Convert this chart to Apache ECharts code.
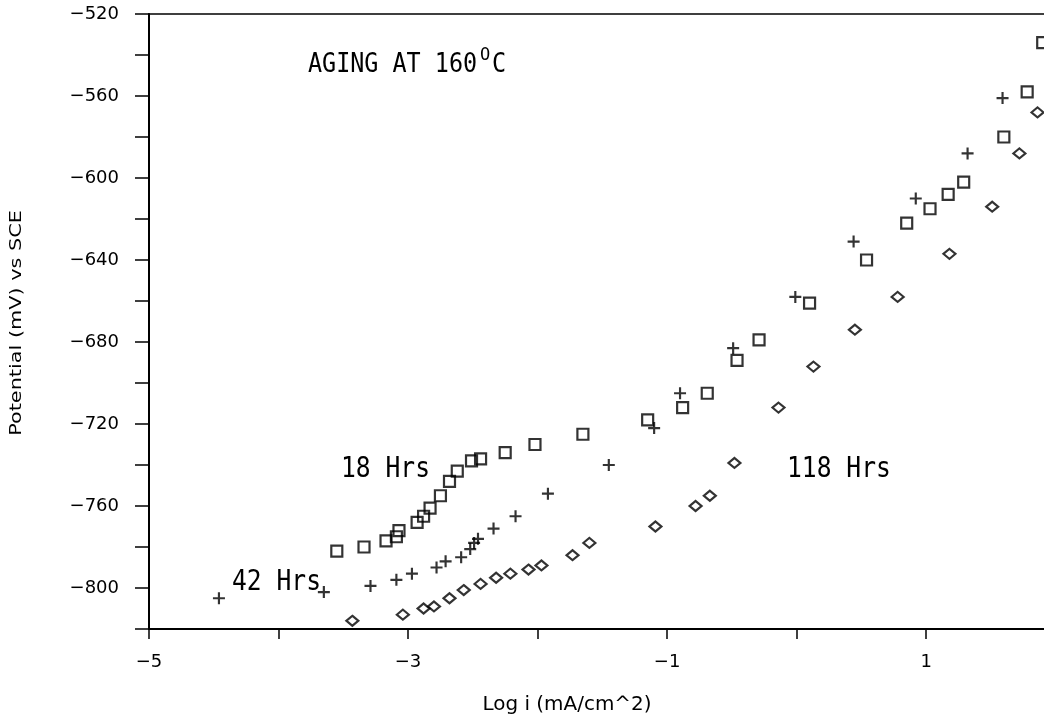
<!DOCTYPE html>
<html>
<head>
<meta charset="utf-8">
<script src="https://cdn.jsdelivr.net/npm/echarts@6/dist/echarts.min.js"></script>
<style>
  html, body { margin: 0; padding: 0; background: #fff; }
  #chart { width: 1044px; height: 717px; }
</style>
</head>
<body>
<div id="chart"></div>
<script>
// Polarisation data: log current density (mA/cm^2) vs potential (mV vs SCE)
const logI18 = [-3.55, -3.34, -3.17, -3.09, -3.07, -2.93, -2.88, -2.83, -2.75, -2.68, -2.62, -2.51, -2.44, -2.25, -2.02, -1.65, -1.15, -0.88, -0.69, -0.46, -0.29, 0.10, 0.54, 0.85, 1.03, 1.17, 1.29, 1.60, 1.78, 1.90];
const pot18 = [-782, -780, -777, -775, -772, -768, -765, -761, -755, -748, -743, -738, -737, -734, -730, -725, -718, -712, -705, -689, -679, -661, -640, -622, -615, -608, -602, -580, -558, -534];

const logI42 = [-4.46, -3.65, -3.29, -3.09, -2.97, -2.78, -2.71, -2.59, -2.52, -2.49, -2.46, -2.34, -2.17, -1.92, -1.45, -1.10, -0.90, -0.49, -0.01, 0.44, 0.92, 1.32, 1.59];
const pot42 = [-805, -802, -799, -796, -793, -790, -787, -785, -781, -778, -776, -771, -765, -754, -740, -722, -705, -683, -658, -631, -610, -588, -561];

const logI118 = [-3.43, -3.04, -2.88, -2.80, -2.68, -2.57, -2.44, -2.32, -2.21, -2.07, -1.97, -1.73, -1.60, -1.09, -0.78, -0.67, -0.48, -0.14, 0.13, 0.45, 0.78, 1.18, 1.51, 1.72, 1.86];
const pot118 = [-816, -813, -810, -809, -805, -801, -798, -795, -793, -791, -789, -784, -778, -770, -760, -755, -739, -712, -692, -674, -658, -637, -614, -588, -568];

// Axis settings
const xMin = -5, xMax = 1.91, xStep = 1;
const yMin = -820, yMax = -520, yStep = 20;
const xLabelValues = [-5, -3, -1, 1];
const yLabelEvery = 40;

const zip = (xs, ys) => xs.map((x, i) => [x, ys[i]]);
const minus = v => String(v).replace('-', '\u2212');

const chart = echarts.init(document.getElementById('chart'), null, { renderer: 'canvas' });

const outlineStyle = { color: 'rgba(0,0,0,0)', borderColor: '#000', borderWidth: 2.2 };
const tickFont = { fontFamily: 'DejaVu Sans', fontSize: 18, color: '#000' };
const monoFont = 'DejaVu Sans Mono';
// solid plus sign drawn as a filled outline so the bars keep a constant thickness
const plusPath = 'path://M4.1,0H5.9V4.1H10V5.9H5.9V10H4.1V5.9H0V4.1H4.1Z';

chart.setOption({
  animation: false,
  backgroundColor: '#fff',
  grid: { left: 149, right: 0, top: 14, bottom: 88, containLabel: false },
  xAxis: [{
    type: 'value', min: xMin, max: xMax, interval: xStep,
    axisLine: { show: true, onZero: false, lineStyle: { color: '#000', width: 2 } },
    axisTick: { show: true, inside: false, length: 10, lineStyle: { color: '#000', width: 1.5 } },
    axisLabel: {
      ...tickFont, margin: 24, showMaxLabel: false,
      formatter: v => xLabelValues.includes(v) ? minus(v) : ''
    },
    splitLine: { show: false }
  }, {
    type: 'value', position: 'top', min: xMin, max: xMax,
    axisLine: { show: true, onZero: false, lineStyle: { color: '#000', width: 1.5 } },
    axisTick: { show: false }, axisLabel: { show: false }, splitLine: { show: false }
  }],
  yAxis: {
    type: 'value', min: yMin, max: yMax, interval: yStep,
    axisLine: { show: true, onZero: false, lineStyle: { color: '#000', width: 2 } },
    axisTick: { show: true, inside: false, length: 14, lineStyle: { color: '#000', width: 1.5 } },
    axisLabel: {
      ...tickFont, margin: 30,
      formatter: v => (v % yLabelEvery === 0) ? minus(v) : ''
    },
    splitLine: { show: false }
  },
  series: [{
    name: '18 Hrs', type: 'scatter', data: zip(logI18, pot18),
    symbol: 'rect', symbolSize: 11, itemStyle: outlineStyle, clip: false,
    emphasis: { disabled: true }
  }, {
    name: '42 Hrs', type: 'scatter', data: zip(logI42, pot42),
    symbol: plusPath, symbolSize: 12, itemStyle: { color: '#000', borderWidth: 0 }, clip: false,
    emphasis: { disabled: true }
  }, {
    name: '118 Hrs', type: 'scatter', data: zip(logI118, pot118),
    symbol: 'diamond', symbolSize: [12, 10], itemStyle: outlineStyle, clip: false,
    emphasis: { disabled: true }
  }],
  graphic: [
    // heading
    { type: 'text', x: 308, y: 65, scaleX: 0.9, style: { text: 'AGING AT 160', fontFamily: monoFont, fontSize: 26, fill: '#000', textVerticalAlign: 'middle' } },
    { type: 'text', x: 480, y: 56, style: { text: 'O', fontFamily: monoFont, fontSize: 17, fill: '#000', textVerticalAlign: 'middle' } },
    { type: 'text', x: 492, y: 65, scaleX: 0.9, style: { text: 'C', fontFamily: monoFont, fontSize: 26, fill: '#000', textVerticalAlign: 'middle' } },
    // series labels
    { type: 'text', x: 341, y: 470, scaleX: 0.88, style: { text: '18 Hrs', fontFamily: monoFont, fontSize: 28, fill: '#000', textVerticalAlign: 'middle' } },
    { type: 'text', x: 232, y: 583, scaleX: 0.88, style: { text: '42 Hrs', fontFamily: monoFont, fontSize: 28, fill: '#000', textVerticalAlign: 'middle' } },
    { type: 'text', x: 787, y: 470, scaleX: 0.88, style: { text: '118 Hrs', fontFamily: monoFont, fontSize: 28, fill: '#000', textVerticalAlign: 'middle' } },
    // axis titles
    { type: 'text', x: 567, y: 705, scaleX: 1.05, style: { text: 'Log i (mA/cm^2)', fontFamily: 'DejaVu Sans', fontSize: 19, fill: '#000', textAlign: 'center', textVerticalAlign: 'middle' } },
    { type: 'text', x: 17, y: 323, rotation: Math.PI / 2, scaleX: 1.3, style: { text: 'Potential (mV) vs SCE', fontFamily: 'DejaVu Sans', fontSize: 16, fill: '#000', textAlign: 'center', textVerticalAlign: 'middle' } }
  ]
});
</script>
</body>
</html>
